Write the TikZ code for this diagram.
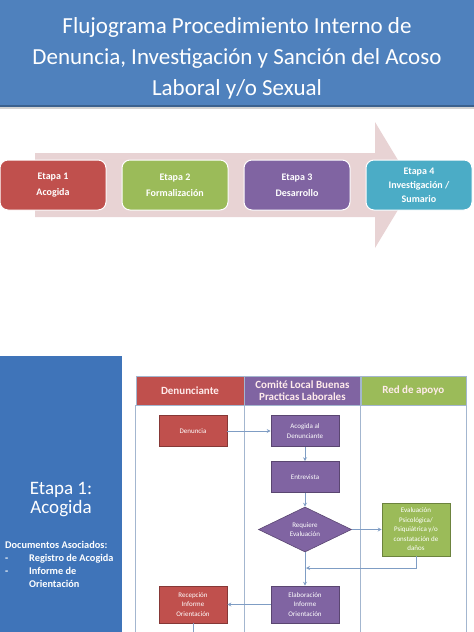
\documentclass[tikz,border=0pt]{standalone}
\usepackage{fontspec}
\setmainfont{Carlito}
\usetikzlibrary{shapes.geometric, arrows.meta, positioning}
\usepackage{xcolor}
\definecolor{titleblue}{HTML}{4F81BD}
\definecolor{panelblue}{HTML}{3F74B9}
\definecolor{arrowpink}{HTML}{E8D3D4}
\definecolor{stagered}{HTML}{C0504D}
\definecolor{stagegreen}{HTML}{9BBB59}
\definecolor{stagepurple}{HTML}{8064A2}
\definecolor{stagecyan}{HTML}{4BACC6}
\definecolor{linkblue}{HTML}{7F9DC4}
\definecolor{laneline}{HTML}{A3B6CF}

\begin{document}
\begin{tikzpicture}[
    x=1pt, y=1pt,
    stage/.style={draw=white, line width=1pt, rounded corners=8pt, align=center, minimum width=106pt, minimum height=50pt, inner sep=0pt, text=white, font=\fontsize{10}{16}\selectfont\bfseries},
    lanehead/.style={draw=laneline, align=center, minimum height=29pt, inner sep=0pt, text=red!8, font=\fontsize{11}{12}\selectfont\bfseries},
    proc/.style={draw, line width=0.6pt, align=center, minimum width=68pt, minimum height=31pt, inner sep=1pt, text=white, font=\fontsize{7}{9.5}\selectfont},
    decision/.style={diamond, draw=stagepurple!70!black, fill=stagepurple, line width=0.6pt, align=center, minimum width=93pt, minimum height=45pt, inner sep=0pt, text=white, font=\fontsize{7}{9.5}\selectfont},
    arrow/.style={draw=linkblue, line width=0.8pt, ->, >={Stealth[length=4pt, width=4pt]}},
    lane/.style={draw=laneline, line width=0.8pt}
]
\useasboundingbox (0,0) rectangle (474,-632);

% Title banner
\fill[titleblue] (0,0) rectangle (474,-106);
\fill[titleblue!75!black] (0,-105) rectangle (474,-107);
\fill[gray!35] (0,-107) rectangle (474,-109);
\node[align=center, text=white, font=\fontsize{23}{31}\selectfont] (title) at (237,-58)
    {Flujograma Procedimiento Interno de\\Denuncia, Investigación y Sanción del Acoso\\Laboral y/o Sexual};

% Process arrow
\fill[arrowpink] (35,-153) -- (375,-153) -- (375,-122) -- (413,-185) -- (375,-248) -- (375,-217) -- (35,-217) -- cycle;

% Stages
\node[stage, fill=stagered] (e1) at (53,-185) {Etapa 1\\Acogida};
\node[stage, fill=stagegreen, right=15pt of e1] (e2) {Etapa 2\\Formalización};
\node[stage, fill=stagepurple, right=15pt of e2] (e3) {Etapa 3\\Desarrollo};
\node[stage, fill=stagecyan, right=15pt of e3, font=\fontsize{10}{14}\selectfont\bfseries] (e4) {Etapa 4\\Investigación /\\Sumario};

% Left panel
\fill[panelblue] (0,-356) rectangle (122,-640);
\node[align=center, text=white, font=\fontsize{19}{19}\selectfont] (stage1) at (61,-500) {Etapa 1:\\Acogida};
\node[align=left, anchor=north west, inner sep=0pt, text=white, font=\fontsize{10.3}{13}\selectfont\bfseries] (docs) at (5,-541)
    {Documentos Asociados:\\
     \makebox[24pt][l]{-}Registro de Acogida\\
     \makebox[24pt][l]{-}Informe de\\
     \makebox[24pt][l]{}Orientación};

% Swimlane headers
\node[lanehead, fill=stagered, minimum width=108pt] (h1) at (190,-390.5) {Denunciante};
\node[lanehead, fill=stagepurple, minimum width=116pt, right=0pt of h1] (h2) {Comité Local Buenas\\Practicas Laborales};
\node[lanehead, fill=stagegreen, minimum width=105pt, right=0pt of h2] (h3) {Red de apoyo};

% Lane borders
\draw[lane] (h1.south west) -- ++(0,-240);
\draw[lane] (h1.south east) -- ++(0,-240);
\draw[lane] (h2.south east) -- ++(0,-240);
\draw[lane] (h3.south east) -- ++(0,-240);

% Flow nodes
\node[proc, fill=stagered, draw=stagered!70!black] (den) at (193,-431) {Denuncia};
\node[proc, fill=stagepurple, draw=stagepurple!70!black] (acog) at (305,-431) {Acogida al\\Denunciante};
\node[proc, fill=stagepurple, draw=stagepurple!70!black] (entr) at (305,-477) {Entrevista};
\node[decision] (req) at (305,-529.5) {Requiere\\Evaluación};
\node[proc, fill=stagegreen, draw=stagegreen!70!black, minimum height=53pt] (eval) at (416,-529.5)
    {Evaluación\\Psicológica/\\Psiquiátrica y/o\\constatación de\\daños};
\node[proc, fill=stagepurple, draw=stagepurple!70!black, minimum height=37pt] (elab) at (305,-604.5) {Elaboración\\Informe\\Orientación};
\node[proc, fill=stagered, draw=stagered!70!black, minimum height=37pt] (recep) at (193,-604.5) {Recepción\\Informe\\Orientación};
\coordinate (merge) at (306,-568);
\coordinate (next) at (193,-640);

% Connections
\draw[arrow] (den) -- (acog);
\draw[arrow] (acog) -- (entr);
\draw[arrow] (entr) -- (req);
\draw[arrow] (req) -- (eval);
\draw[arrow] (eval.south) |- (merge);
\draw[arrow] (req) -- (elab);
\draw[arrow] (elab) -- (recep);
\draw[draw=linkblue, line width=0.8pt] (recep) -- (next);

\end{tikzpicture}
\end{document}
